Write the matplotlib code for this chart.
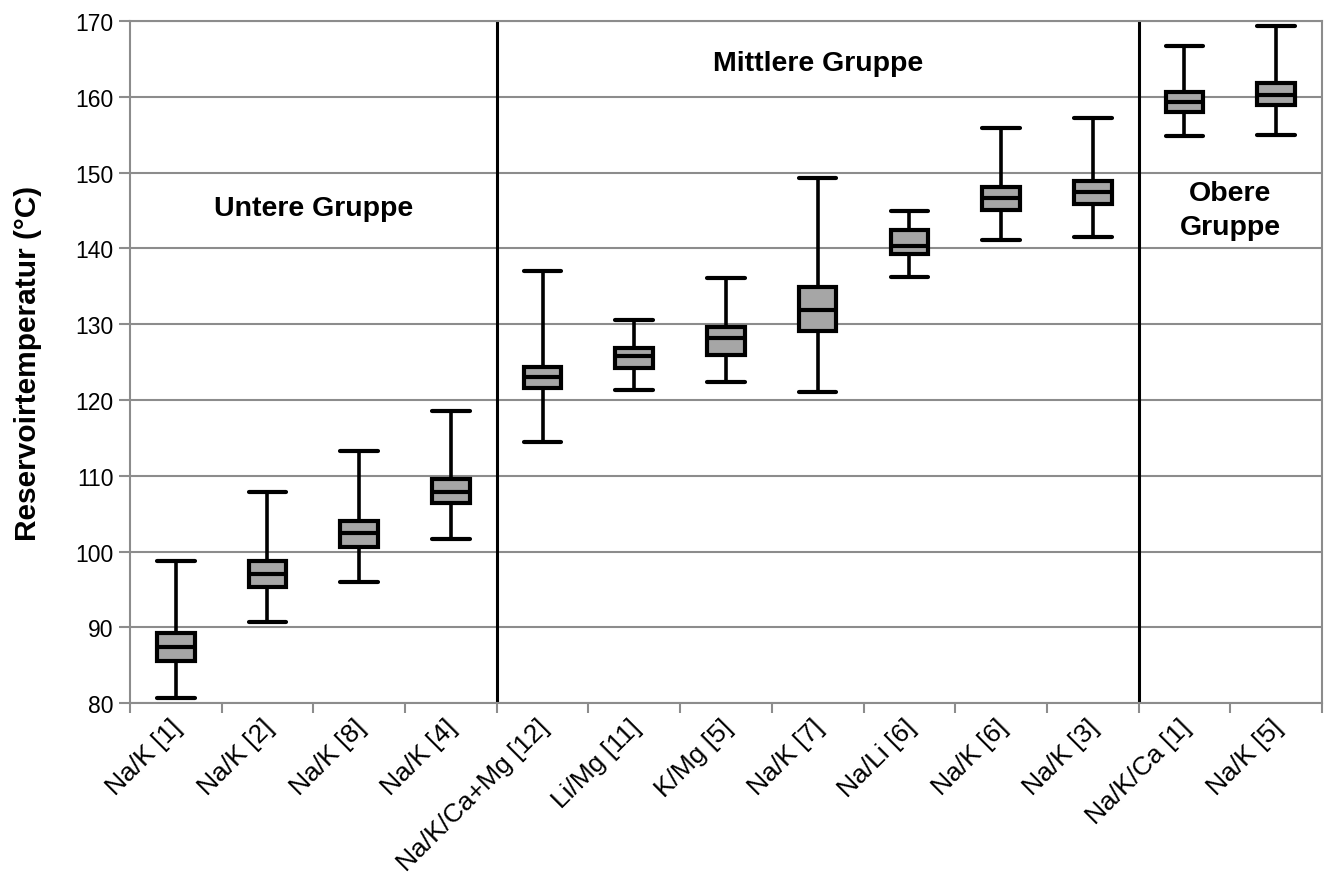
import matplotlib
matplotlib.use("Agg")
import matplotlib.pyplot as plt
import matplotlib.transforms as mtransforms
import numpy as np

plt.rcParams['font.family'] = ['Liberation Sans', 'DejaVu Sans']

categories = ["Na/K [1]", "Na/K [2]", "Na/K [8]", "Na/K [4]", "Na/K/Ca+Mg [12]",
              "Li/Mg [11]", "K/Mg [5]", "Na/K [7]", "Na/Li [6]", "Na/K [6]",
              "Na/K [3]", "Na/K/Ca [1]", "Na/K [5]"]
whisker_low = [80.7, 90.7, 96.0, 101.6, 114.4, 121.3, 122.3, 121.0, 136.2, 141.1, 141.5, 154.8, 154.9]
q1 = [85.5, 95.3, 100.6, 106.4, 121.6, 124.2, 125.9, 129.1, 139.2, 145.0, 145.8, 158.0, 158.9]
median = [87.4, 97.0, 102.4, 107.8, 123.0, 125.8, 128.2, 131.8, 140.3, 146.6, 147.4, 159.3, 160.2]
q3 = [89.2, 98.7, 104.0, 109.6, 124.3, 126.8, 129.6, 134.9, 142.4, 148.1, 148.9, 160.6, 161.8]
whisker_high = [98.7, 107.8, 113.2, 118.5, 137.0, 130.5, 136.1, 149.3, 144.9, 155.9, 157.2, 166.7, 169.4]
group_labels = ["Untere Gruppe", "Mittlere Gruppe", "Obere\nGruppe"]

fig = plt.figure(figsize=(13.3, 8.79), dpi=100)
ax = fig.add_axes([0.0977, 0.199, 0.8963, 0.776])

stats = []
for i in range(len(categories)):
    stats.append(dict(med=median[i], q1=q1[i], q3=q3[i],
                      whislo=whisker_low[i], whishi=whisker_high[i], fliers=[]))

pos = np.arange(len(categories))
ax.bxp(stats, positions=pos, widths=0.41, patch_artist=True, showfliers=False,
       boxprops=dict(facecolor='#a6a6a6', edgecolor='black', linewidth=3),
       medianprops=dict(color='black', linewidth=3),
       whiskerprops=dict(color='black', linewidth=2.6),
       capprops=dict(color='black', linewidth=3, solid_capstyle='round'),
       capwidths=0.41)

ax.set_xlim(-0.5, len(categories) - 0.5)
ax.set_ylim(80, 170)
ax.set_yticks(np.arange(80, 171, 10))
ax.yaxis.grid(True, color='#8c8c8c', linewidth=1.5)
ax.set_axisbelow(True)

ax.set_xticks(pos)
ax.set_xticklabels(categories, rotation=45, ha='right', rotation_mode='anchor', fontsize=19)
ax.tick_params(axis='x', which='major', length=0, pad=8)
offset = mtransforms.ScaledTranslation(-6 / 100, 0, fig.dpi_scale_trans)
for lbl in ax.get_xticklabels():
    lbl.set_transform(lbl.get_transform() + offset)
ax.set_xticks(np.arange(-0.5, len(categories), 1), minor=True)
ax.tick_params(axis='x', which='minor', length=7, width=1.5, color='#8c8c8c')
ax.tick_params(axis='y', labelsize=16.5, length=8, width=1.5, color='#8c8c8c', pad=4)

for s in ax.spines.values():
    s.set_color('#8c8c8c')
    s.set_linewidth(1.5)

ax.axvline(3.5, color='black', linewidth=2.2)
ax.axvline(10.5, color='black', linewidth=2.2)

ax.set_ylabel("Reservoirtemperatur (°C)", fontsize=21.5, fontweight='bold', labelpad=24)

ax.text(1.5, 145.3, group_labels[0], ha='center', va='center', fontsize=20.5, fontweight='bold')
ax.text(7.0, 164.4, group_labels[1], ha='center', va='center', fontsize=20.5, fontweight='bold')
ax.text(11.5, 145.0, group_labels[2], ha='center', va='center', fontsize=20.5, fontweight='bold',
        linespacing=1.4)

fig.savefig("out.png", dpi=100)
